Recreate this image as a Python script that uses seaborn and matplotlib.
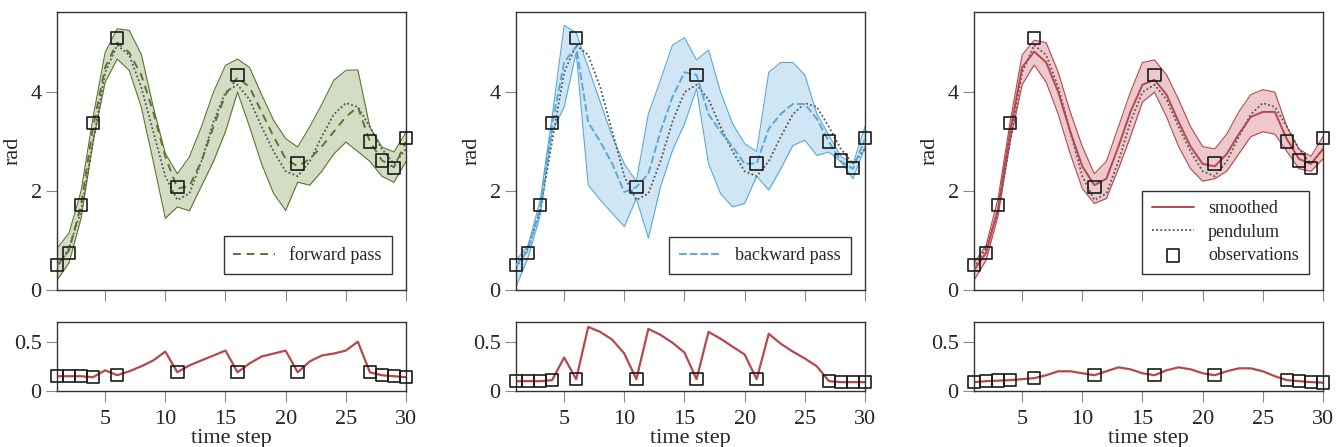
import numpy as np
import pandas as pd
import seaborn as sns
import matplotlib.pyplot as plt

# time axis and observations
steps = list(range(1, 31))
obs_steps = [1, 2, 3, 4, 6, 11, 16, 21, 27, 28, 29, 30]
obs_values = [0.5, 0.75, 1.72, 3.38, 5.1, 2.08, 4.35, 2.56, 3.0, 2.62, 2.47, 3.07]

pendulum = [0.45, 0.85, 1.6, 3.0, 4.4, 4.95, 4.75, 4.1, 3.2, 2.3,
            1.82, 1.95, 2.6, 3.4, 4.0, 4.15, 3.85, 3.3, 2.8, 2.4,
            2.3, 2.6, 3.1, 3.55, 3.78, 3.7, 3.3, 2.85, 2.55, 2.85]

forward_mean = [0.5, 0.8, 1.72, 3.3, 4.5, 5.0, 4.8, 4.35, 3.6, 2.7,
                2.05, 2.1, 2.6, 3.3, 3.95, 4.3, 4.1, 3.6, 3.1, 2.65,
                2.5, 2.65, 2.9, 3.2, 3.5, 3.7, 3.0, 2.62, 2.48, 3.0]
forward_upper = [0.84, 1.15, 2.0, 3.5, 4.8, 5.28, 5.25, 4.77, 3.7, 2.76,
                 2.35, 2.69, 3.3, 4.0, 4.54, 4.67, 4.5, 3.95, 3.43, 3.06,
                 2.89, 3.3, 3.75, 4.24, 4.44, 4.45, 3.29, 2.89, 2.79, 3.19]
forward_lower = [0.2, 0.55, 1.45, 3.0, 4.2, 4.67, 4.44, 3.7, 2.6, 1.45,
                 1.68, 1.6, 2.1, 2.6, 3.2, 4.0, 3.3, 2.55, 1.95, 1.61,
                 2.18, 2.12, 2.4, 2.75, 2.99, 2.8, 2.6, 2.3, 2.18, 2.6]

backward_mean = [0.5, 0.8, 1.65, 3.35, 4.6, 4.92, 3.39, 3.0, 2.55, 1.98,
                 2.08, 2.35, 3.2, 3.9, 4.4, 4.35, 3.55, 3.2, 2.9, 2.55,
                 2.56, 3.26, 3.56, 3.76, 3.76, 3.46, 3.0, 2.6, 2.45, 3.05]
backward_upper = [0.6, 0.9, 1.8, 3.5, 5.35, 5.2, 4.5, 3.8, 3.1, 2.55,
                  2.2, 3.56, 4.24, 4.95, 5.1, 4.65, 4.85, 4.0, 3.36, 2.96,
                  2.8, 4.4, 4.6, 4.6, 4.35, 3.56, 3.13, 2.7, 2.55, 3.3]
backward_lower = [0.07, 0.65, 1.5, 3.2, 3.7, 4.8, 2.12, 1.82, 1.55, 1.28,
                  1.85, 1.05, 2.08, 2.82, 3.36, 4.07, 2.55, 1.95, 1.68, 1.75,
                  2.3, 2.02, 2.45, 2.92, 3.03, 2.72, 2.79, 2.59, 2.25, 2.89]

smoothed_mean = [0.4, 0.75, 1.65, 3.2, 4.5, 4.82, 4.6, 4.0, 3.2, 2.5,
                 2.12, 2.25, 2.9, 3.6, 4.15, 4.25, 3.95, 3.4, 2.9, 2.55,
                 2.5, 2.75, 3.15, 3.5, 3.6, 3.6, 3.05, 2.65, 2.55, 2.85]
smoothed_upper = [0.55, 0.9, 1.85, 3.4, 4.75, 5.05, 5.0, 4.4, 3.6, 2.9,
                  2.35, 2.6, 3.3, 4.0, 4.6, 4.65, 4.35, 3.85, 3.3, 2.9,
                  2.85, 3.15, 3.6, 3.95, 4.05, 4.0, 3.3, 2.85, 2.7, 3.1]
smoothed_lower = [0.2, 0.6, 1.5, 3.0, 4.15, 4.55, 4.2, 3.55, 2.75, 2.05,
                  1.75, 1.85, 2.45, 3.1, 3.8, 4.0, 3.5, 2.9, 2.45, 2.2,
                  2.25, 2.4, 2.75, 3.1, 3.2, 3.15, 2.8, 2.45, 2.4, 2.65]

# lower row: uncertainty per step
forward_err = [0.15, 0.15, 0.15, 0.14, 0.21, 0.16, 0.2, 0.25, 0.31, 0.4,
               0.19, 0.26, 0.31, 0.36, 0.41, 0.19, 0.28, 0.35, 0.38, 0.41,
               0.19, 0.3, 0.36, 0.38, 0.41, 0.5, 0.19, 0.16, 0.15, 0.14]
backward_err = [0.1, 0.1, 0.1, 0.11, 0.34, 0.12, 0.65, 0.6, 0.52, 0.38,
                0.12, 0.63, 0.57, 0.49, 0.39, 0.12, 0.6, 0.53, 0.45, 0.37,
                0.12, 0.58, 0.48, 0.4, 0.33, 0.25, 0.1, 0.09, 0.09, 0.09]
smoothed_err = [0.09, 0.1, 0.105, 0.11, 0.12, 0.13, 0.16, 0.2, 0.2, 0.18,
                0.16, 0.2, 0.24, 0.22, 0.18, 0.16, 0.21, 0.24, 0.22, 0.18,
                0.16, 0.2, 0.23, 0.23, 0.2, 0.15, 0.11, 0.1, 0.09, 0.085]

sns.set_theme(style="ticks")
plt.rcParams['font.family'] = ['Liberation Serif', 'DejaVu Serif']

panels = [
    ('forward pass', forward_mean, forward_upper, forward_lower, forward_err,
     '#5f7430', '#d3ddc3', (4, 3), 'forward'),
    ('backward pass', backward_mean, backward_upper, backward_lower, backward_err,
     '#5aa9dc', '#d0e6f5', (4, 1.5), 'backward'),
    ('smoothed', smoothed_mean, smoothed_upper, smoothed_lower, smoothed_err,
     '#b8474d', '#ecc9ca', None, 'smoothed'),
]
err_color = '#b8474d'

fig = plt.figure(figsize=(13.38, 4.47), dpi=100)
lefts = [57, 516, 974]
W, H = 1338, 447

for i, (label, mean, up, lo, err, col, fill, dash, kind) in enumerate(panels):
    x0 = lefts[i] / W
    w = 349 / W
    ax = fig.add_axes([x0, 1 - 290 / H, w, 278 / H])
    axb = fig.add_axes([x0, 1 - 391 / H, w, 69 / H])

    df = pd.DataFrame({'t': steps, 'mean': mean, 'up': up, 'lo': lo,
                       'pend': pendulum, 'err': err})
    obs = pd.DataFrame({'t': obs_steps, 'y': obs_values})

    ax.fill_between(df['t'], df['lo'], df['up'], color=fill, lw=0, zorder=1)
    sns.lineplot(data=df, x='t', y='up', ax=ax, color=col, lw=0.8, zorder=2)
    sns.lineplot(data=df, x='t', y='lo', ax=ax, color=col, lw=0.8, zorder=2)
    sns.lineplot(data=df, x='t', y='pend', ax=ax, color='#555555', lw=1.3,
                 linestyle=(0, (1, 1.3)), zorder=3, label='pendulum' if kind == 'smoothed' else None)
    if dash is None:
        sns.lineplot(data=df, x='t', y='mean', ax=ax, color=col, lw=1.4,
                     zorder=4, label=label)
    else:
        sns.lineplot(data=df, x='t', y='mean', ax=ax, color=col, lw=1.4,
                     linestyle=(0, dash), zorder=4, label=label)
    ax.scatter(obs['t'], obs['y'], marker='s', s=80, facecolors='none',
               edgecolors='#1a1a1a', linewidths=1.2, zorder=5, clip_on=False,
               label='observations' if kind == 'smoothed' else None)

    ax.set_xlim(1, 30)
    ax.set_ylim(0, 5.62)
    ax.set_yticks([0, 2, 4])
    ax.set_xticks([5, 10, 15, 20, 25, 30])
    ax.set_xticklabels([])
    ax.set_xlabel('')
    ax.set_ylabel('rad', fontsize=16, labelpad=6)

    leg_kw = dict(loc='lower right', fontsize=13, frameon=True, fancybox=False,
                  edgecolor='#333333', framealpha=1, handlelength=2.3,
                  borderpad=0.55, bbox_to_anchor=(0.985, 0.025))
    if kind == 'smoothed':
        handles, labels = ax.get_legend_handles_labels()
        order = [labels.index('smoothed'), labels.index('pendulum'), labels.index('observations')]
        leg = ax.legend([handles[k] for k in order], [labels[k] for k in order],
                        labelspacing=0.35, **leg_kw)
    else:
        leg = ax.legend(**leg_kw)
    leg.get_frame().set_linewidth(1.0)

    # lower row
    sns.lineplot(data=df, x='t', y='err', ax=axb, color=err_color, lw=1.6, zorder=2)
    obs_err = df.set_index('t').loc[obs_steps, 'err']
    axb.scatter(obs_steps, obs_err.values, marker='s', s=80, facecolors='none',
                edgecolors='#1a1a1a', linewidths=1.2, zorder=5, clip_on=False)
    axb.set_xlim(1, 30)
    axb.set_ylim(0, 0.7)
    axb.set_yticks([0, 0.5])
    axb.set_yticklabels(['0', '0.5'])
    axb.set_xticks([5, 10, 15, 20, 25, 30])
    axb.set_ylabel('')
    axb.set_xlabel('time step', fontsize=16, labelpad=0)

    for a in (ax, axb):
        for s in a.spines.values():
            s.set_visible(True)
            s.set_color('#333333')
            s.set_linewidth(1.0)
        a.tick_params(axis='both', direction='out', length=8, width=0.8,
                      color='#888888', labelsize=16, pad=3)
        a.set_facecolor('white')
    axb.tick_params(axis='x', pad=6)

fig.savefig('out.png', dpi=100)
